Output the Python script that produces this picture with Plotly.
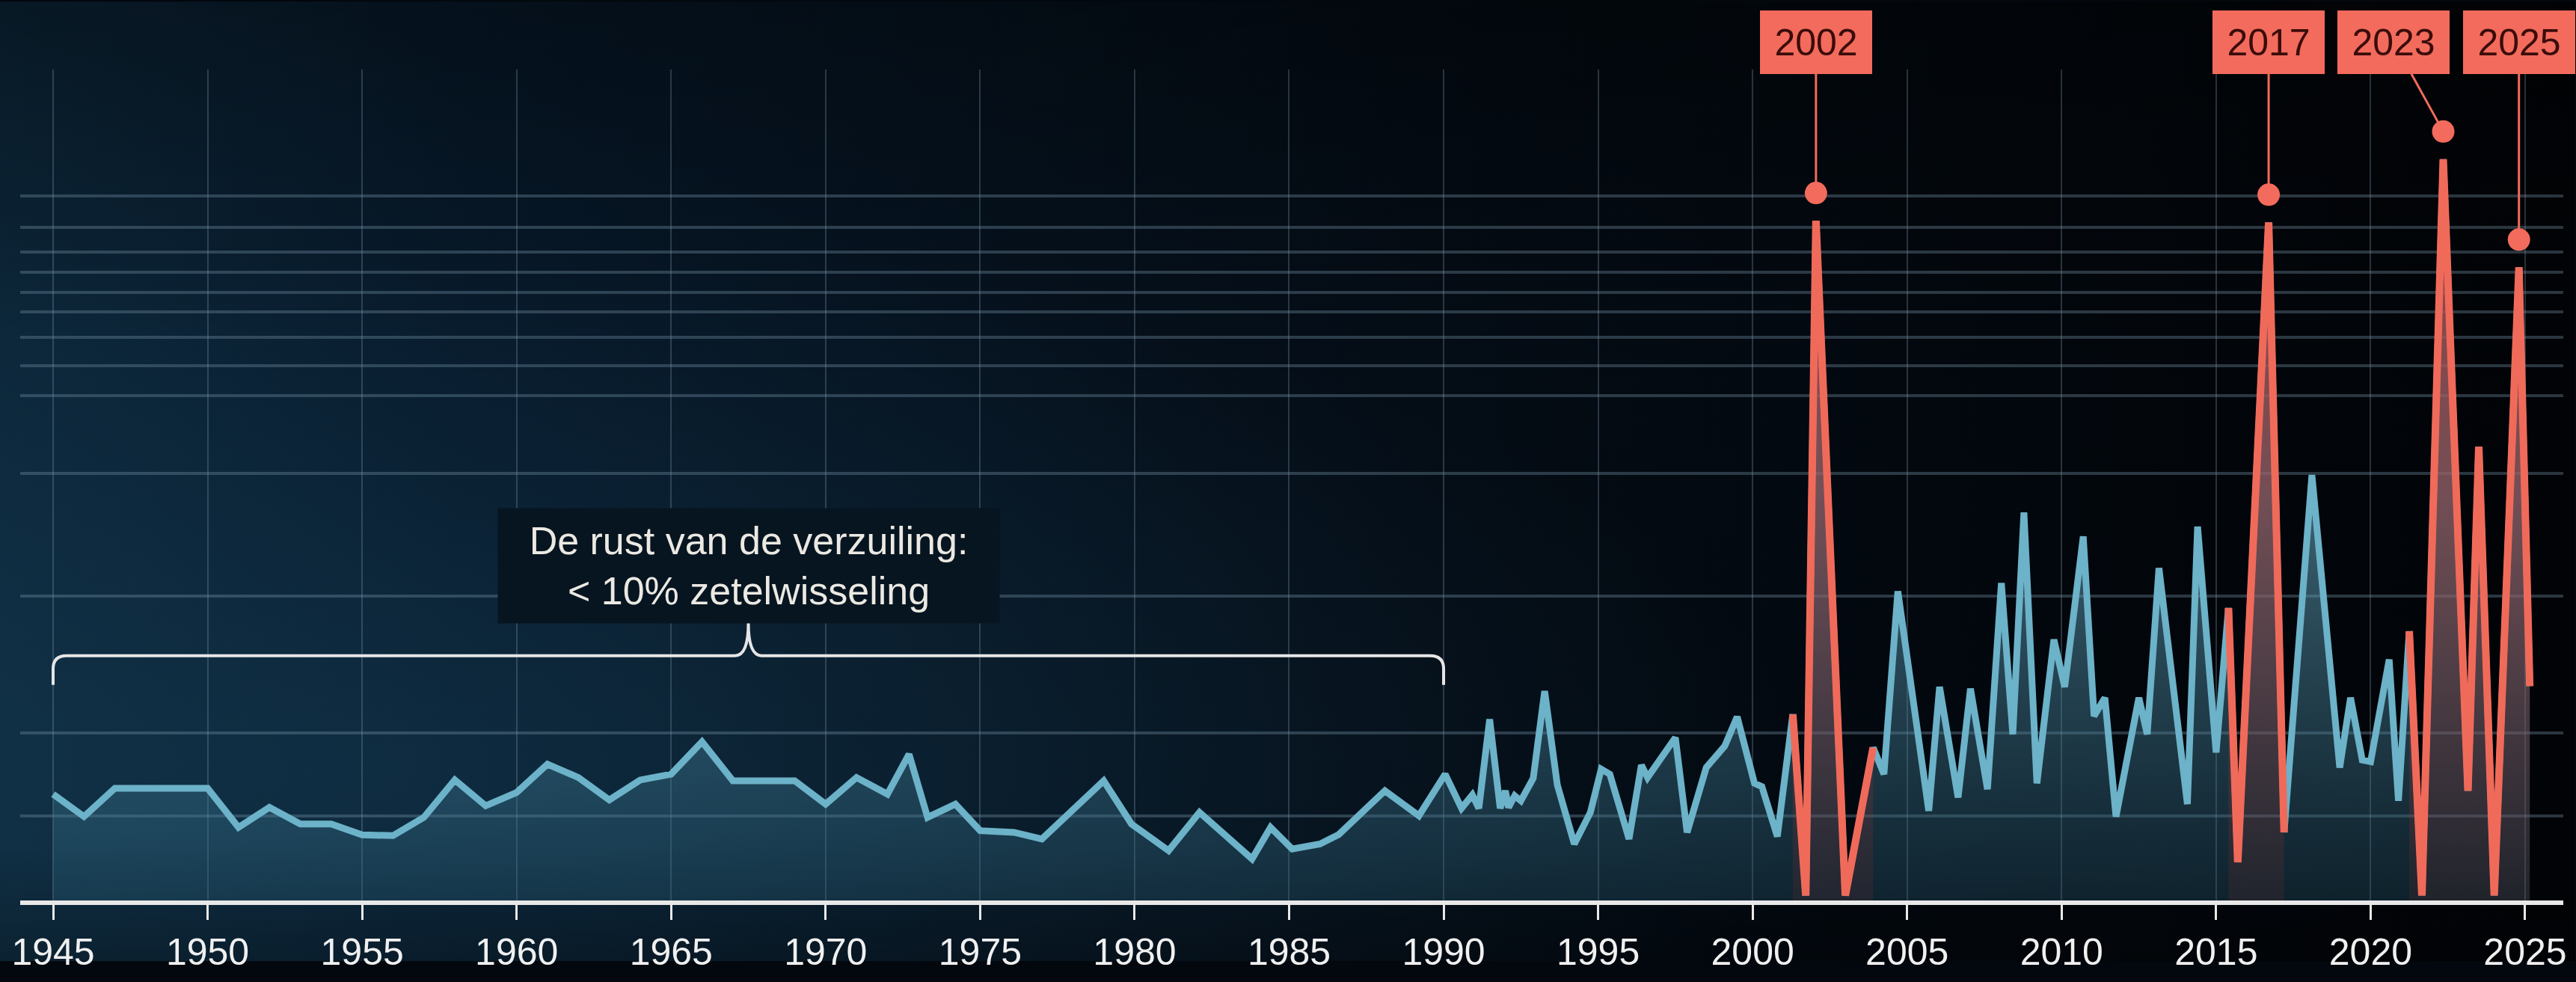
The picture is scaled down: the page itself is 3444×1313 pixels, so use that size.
import base64
import numpy as np
import plotly.graph_objects as go

# ---------------- data ----------------
years = [1945, 1946, 1947, 1948, 1949, 1950, 1951, 1952, 1953, 1954, 1955, 1956, 1957, 1958,
         1959, 1960, 1961, 1962, 1963, 1964, 1965, 1966, 1967, 1968, 1969, 1970, 1971, 1972,
         1972.7, 1973.3, 1974.2, 1975, 1976.1, 1977, 1979, 1979.9, 1981.1, 1982.1, 1983.8,
         1984.4, 1985.1, 1986, 1986.6, 1988.1, 1989.2, 1990.05, 1990.58, 1990.93, 1991.14,
         1991.49, 1991.83, 1992.0, 1992.1, 1992.3, 1992.5, 1992.9, 1993.27, 1993.68, 1994.23,
         1994.75, 1995.1, 1995.38, 1996.0, 1996.4, 1996.6, 1997.5, 1997.88, 1998.5, 1999.1,
         1999.5, 2000.06, 2000.3, 2000.8, 2001.3, 2001.72, 2002.05, 2003.0, 2003.9, 2004.25,
         2004.7, 2005.7, 2006.05, 2006.65, 2007.05, 2007.6, 2008.05, 2008.42, 2008.78, 2009.2,
         2009.75, 2010.1, 2010.7, 2011.05, 2011.4, 2011.76, 2012.5, 2012.77, 2013.15, 2014.07,
         2014.4, 2015.0, 2015.4, 2015.7, 2016.7, 2017.2, 2018.1, 2019.0, 2019.35, 2019.73,
         2020.0, 2020.6, 2020.9, 2021.25, 2021.66, 2022.35, 2023.15, 2023.5, 2024.0, 2024.8,
         2025.15]
swing = [6.4, 5.05, 6.75, 6.75, 6.75, 6.75, 4.4, 5.6, 4.6, 4.6, 3.95, 3.9, 5.0, 7.25,
         5.7, 6.5, 8.2, 7.4, 6.05, 7.25, 7.6, 9.55, 7.2, 7.2, 7.2, 5.8, 7.4, 6.4,
         8.8, 5.0, 5.8, 4.2, 4.1, 3.7, 7.2, 4.6, 3.0, 5.3, 2.5,
         4.4, 3.1, 3.4, 3.96, 6.6, 5.1, 7.6, 5.55, 6.35, 5.55,
         10.9, 5.55, 6.6, 5.6, 6.3, 6.0, 7.35, 12.6, 6.95, 3.4,
         5.3, 7.9, 7.6, 3.7, 8.15, 7.4, 9.8, 4.1, 8.0, 9.3,
         11.05, 7.05, 6.85, 3.85, 11.2, 0.3, 40.9, 0.3, 9.2, 7.6,
         18.6, 5.4, 12.85, 6.2, 12.75, 6.7, 19.1, 10.0, 23.35, 7.05,
         15.7, 12.85, 21.9, 11.1, 12.2, 5.05, 12.2, 10.0, 20.0, 5.8,
         22.5, 8.9, 17.6, 2.3, 40.8, 4.1, 25.6, 8.0, 12.2, 8.45,
         8.35, 14.5, 6.0, 16.2, 0.3, 44.6, 6.6, 27.3, 0.3, 38.1,
         12.9]

volatile_periods = [(2001.3, 2003.9), (2015.4, 2017.2), (2021.25, 2025.15)]

event_labels = ["2002", "2017", "2023", "2025"]
event_peaks = [2002.05, 2016.7, 2022.35, 2024.8]

tick_years = list(range(1945, 2026, 5))
tick_labels = [str(y) for y in tick_years]

grid_levels = [5.1, 10.1, 18.3, 25.7, 30.4, 32.2, 33.9, 35.4, 36.6, 37.8, 39.0, 40.5, 42.4, 50.0]

era = (1945, 1990)
era_text = "De rust van de verzuiling:<br>&lt; 10% zetelwisseling"

# ---------------- styling ----------------
W, H = 3444, 1313
ML, MR, MT, MB = 27, 16, 93, 83
PW, PH = W - ML - MR, H - MT - MB
XR = [1943.935, 2026.235]
YR = [0, 50]
px_x = PW / (XR[1] - XR[0])
px_y = PH / (YR[1] - YR[0])

CYAN = "#6cb2c8"
RED = "#f06a5a"
BOX = "#f26b5c"
FONT = "Liberation Sans, Arial, sans-serif"

box_centers_x = [2002.05, 2016.7, 2020.75, 2024.8]   # label box positions
box_center_y = 51.65
dot_offset_px = 38

xs = np.array(years)
ys = np.array(swing)

fig = go.Figure()

fig.add_trace(go.Scatter(
    x=xs, y=ys, mode="lines",
    line=dict(color=CYAN, width=9),
    fill="tozeroy",
    fillgradient=dict(type="vertical",
                      colorscale=[[0, "rgba(40,95,120,0.30)"], [1, "rgba(110,175,200,0.55)"]],
                      start=0, stop=25),
    hoverinfo="skip"))

for a, b in volatile_periods:
    m = (xs >= a - 1e-9) & (xs <= b + 1e-9)
    fig.add_trace(go.Scatter(
        x=xs[m], y=ys[m], mode="lines",
        line=dict(color=RED, width=10),
        fill="tozeroy",
        fillgradient=dict(type="vertical",
                          colorscale=[[0, "rgba(170,50,45,0.10)"], [1, "rgba(190,55,50,0.65)"]],
                          start=0, stop=40),
        hoverinfo="skip"))

peak_vals = [ys[np.argmin(np.abs(xs - p))] for p in event_peaks]
dot_vals = [v + dot_offset_px / px_y for v in peak_vals]
fig.add_trace(go.Scatter(x=event_peaks, y=dot_vals, mode="markers",
                         marker=dict(size=30, color=BOX), hoverinfo="skip"))

annotations = []
for lab, px_, dv, bx in zip(event_labels, event_peaks, dot_vals, box_centers_x):
    annotations.append(dict(
        x=px_, y=dv, xref="x", yref="y", ax=bx, ay=box_center_y, axref="x", ayref="y",
        text=lab, showarrow=True, arrowhead=0, arrowwidth=3, arrowcolor=BOX, standoff=14,
        font=dict(family=FONT, size=50, color="#3a0c0a"),
        bgcolor=BOX, width=150, height=85, borderpad=0, borderwidth=0, align="center"))

annotations.append(dict(
    x=(era[0] + era[1]) / 2, y=20.16, xref="x", yref="y", text=era_text, showarrow=False,
    font=dict(family=FONT, size=52, color="#ebe9e2"), bgcolor="#071521",
    width=670, height=153, borderpad=0, align="center"))

# brace
y_line, y_end, y_tip = 14.73, 12.97, 16.7
rx, ry = 18 / px_x, 18 / px_y
x0, x1 = era
xm = (x0 + x1) / 2
path = (f"M {x0},{y_end} L {x0},{y_line - ry} Q {x0},{y_line} {x0 + rx},{y_line} "
        f"L {xm - rx},{y_line} Q {xm},{y_line} {xm},{y_tip} Q {xm},{y_line} {xm + rx},{y_line} "
        f"L {x1 - rx},{y_line} Q {x1},{y_line} {x1},{y_line - ry} L {x1},{y_end}")
shapes = [dict(type="path", path=path, xref="x", yref="y",
               line=dict(color="#e6e6e6", width=4))]

svg = f"""<svg xmlns="http://www.w3.org/2000/svg" width="{W}" height="{H}" viewBox="0 0 {W} {H}" preserveAspectRatio="none">
<defs>
<linearGradient id="h" x1="0" y1="0" x2="1" y2="0">
<stop offset="0" stop-color="#0c2639"/>
<stop offset="0.18" stop-color="#07192a"/>
<stop offset="0.55" stop-color="#040c15"/>
<stop offset="1" stop-color="#010306"/>
</linearGradient>
<radialGradient id="r" cx="0.15" cy="0.8" r="0.55">
<stop offset="0" stop-color="#1c4d68" stop-opacity="0.35"/>
<stop offset="1" stop-color="#1c4d68" stop-opacity="0"/>
</radialGradient>
<linearGradient id="v" x1="0" y1="0" x2="0" y2="1">
<stop offset="0" stop-color="#000" stop-opacity="0.35"/>
<stop offset="0.35" stop-color="#000" stop-opacity="0"/>
<stop offset="0.88" stop-color="#000" stop-opacity="0"/>
<stop offset="1" stop-color="#000" stop-opacity="0.25"/>
</linearGradient>
</defs>
<rect width="{W}" height="{H}" fill="url(#h)"/>
<rect width="{W}" height="{H}" fill="url(#r)"/>
<rect width="{W}" height="{H}" fill="url(#v)"/>
</svg>"""
bg_uri = "data:image/svg+xml;base64," + base64.b64encode(svg.encode()).decode()

fig.update_layout(
    width=W, height=H,
    margin=dict(l=ML, r=MR, t=MT, b=MB, pad=0),
    paper_bgcolor="#03080e", plot_bgcolor="rgba(0,0,0,0)",
    showlegend=False,
    font=dict(family=FONT),
    images=[dict(source=bg_uri, xref="paper", yref="paper",
                 x=-ML / PW, y=1 + MT / PH, sizex=W / PW, sizey=H / PH,
                 xanchor="left", yanchor="top", sizing="stretch", layer="below")],
    xaxis=dict(range=XR, tickmode="array", tickvals=tick_years, ticktext=tick_labels,
               showgrid=True, gridcolor="rgba(140,170,190,0.28)", gridwidth=2,
               showline=True, linecolor="#e8e8e8", linewidth=6,
               ticks="outside", ticklen=20, tickwidth=3, tickcolor="#e8e8e8",
               tickfont=dict(family=FONT, size=50, color="#f0f0f0"), zeroline=False),
    yaxis=dict(range=YR, tickmode="array", tickvals=grid_levels, showticklabels=False,
               showgrid=True, gridcolor="rgba(120,150,170,0.35)", gridwidth=3.5,
               zeroline=False, showline=False, ticks=""),
    annotations=annotations,
    shapes=shapes,
)

fig.write_html("out.html", config={"displayModeBar": False},
               post_script="document.body.style.margin='0';document.body.style.background='#03080e';document.body.style.overflow='hidden';")
